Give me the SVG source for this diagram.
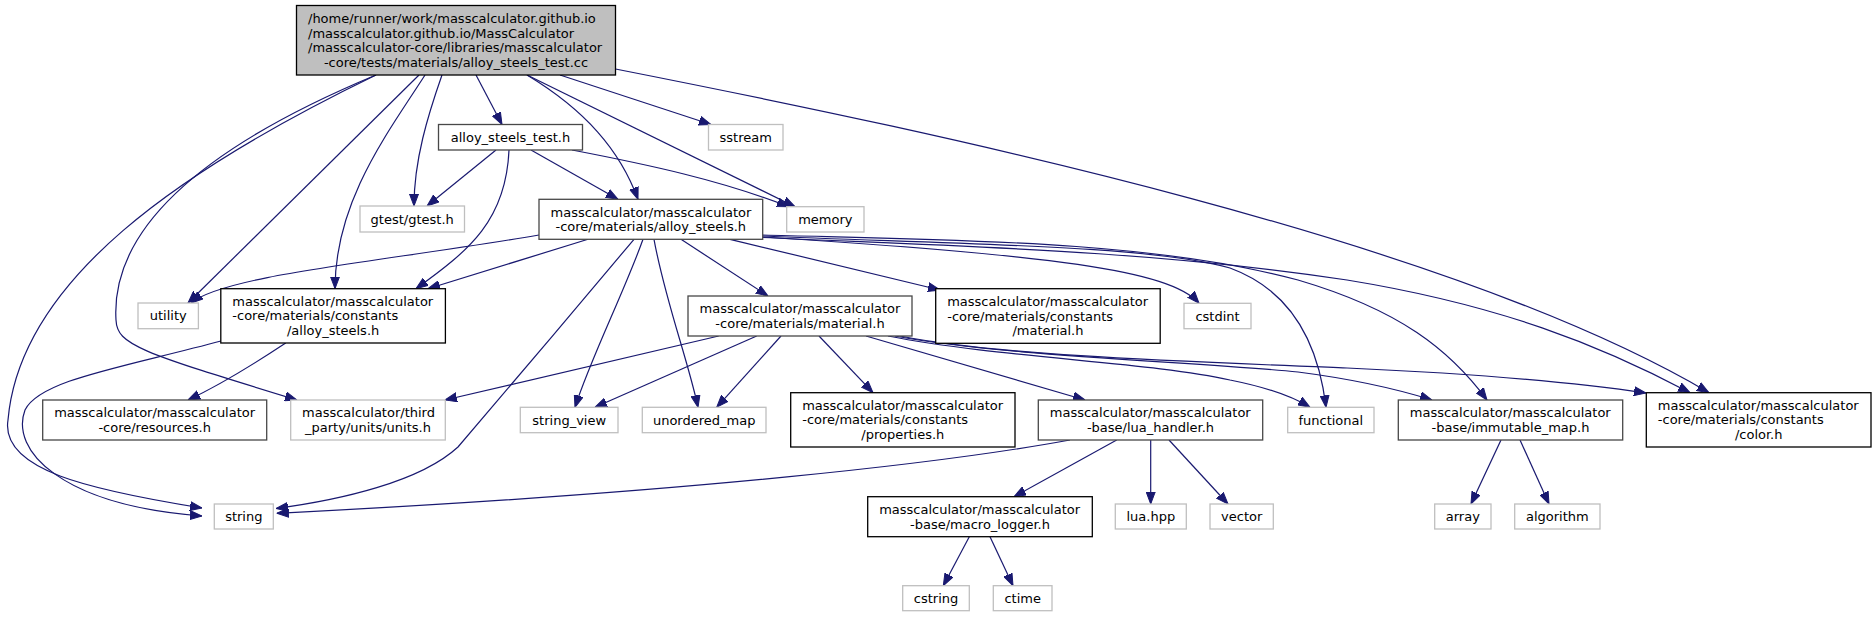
<svg xmlns="http://www.w3.org/2000/svg" width="1876" height="617" viewBox="0 0 1876 617">
<style>
text{font-family:"DejaVu Sans","Liberation Sans",sans-serif;font-size:13px;fill:#000}
.m{text-anchor:middle}
rect{stroke-width:1.3}
.root rect{fill:#bfbfbf;stroke:#000}
.doc rect{fill:#fff;stroke:#484848}
.blk rect{fill:#fff;stroke:#000}
.ext rect{fill:#fff;stroke:#bfbfbf}
#edges path{fill:none;stroke:#191970;stroke-width:1.2}
</style>
<defs>
<marker id="a" markerUnits="userSpaceOnUse" markerWidth="12" markerHeight="10" refX="12" refY="5" orient="auto">
<path d="M0,0.5 L12,5 L0,9.5 z" fill="#191970" stroke="#191970" stroke-width="1"/>
</marker>
</defs>
<rect width="1876" height="617" fill="#fff"/>
<g id="edges" marker-end="url(#a)">
<path d="M476,75 L502,124.5" marker-end="url(#a)"/>
<path d="M560,75 L711,124.5" marker-end="url(#a)"/>
<path d="M442,75 C428,115 414,160 414,206" marker-end="url(#a)"/>
<path d="M527,75 L795,206.7" marker-end="url(#a)"/>
<path d="M527,75 C585,110 620,150 638,199.3" marker-end="url(#a)"/>
<path d="M615.5,69 C950,135 1450,240 1709,392.7" marker-end="url(#a)"/>
<path d="M419,75 L188,303" marker-end="url(#a)"/>
<path d="M425,75 C390,130 335,200 335,288.7" marker-end="url(#a)"/>
<path d="M376,75 C220,140 110,220 116,320 C117,345 140,352 297,400" marker-end="url(#a)"/>
<path d="M376,75 C180,170 20,280 8,420 C0,470 90,490 202,508" marker-end="url(#a)"/>
<path d="M496,150 L427,206" marker-end="url(#a)"/>
<path d="M531,150 L618,199.3" marker-end="url(#a)"/>
<path d="M572,150 C650,165 720,180 789,206.7" marker-end="url(#a)"/>
<path d="M509,150 C506,220 470,250 416,288.7" marker-end="url(#a)"/>
<path d="M539,235 C380,262 225,275 191,303" marker-end="url(#a)"/>
<path d="M588,239.3 L428,288.7" marker-end="url(#a)"/>
<path d="M634,239.3 C590,292 490,410 458,447 C420,482 340,500 276,508.5" marker-end="url(#a)"/>
<path d="M681,239.3 L768,296" marker-end="url(#a)"/>
<path d="M730,239.3 L940,290" marker-end="url(#a)"/>
<path d="M643,239.3 C625,290 590,360 575,407.3" marker-end="url(#a)"/>
<path d="M654,239.3 C665,300 688,360 698,407.3" marker-end="url(#a)"/>
<path d="M762.7,237 C1050,255 1170,270 1199,303.3" marker-end="url(#a)"/>
<path d="M762.7,236 C950,244 1150,245 1230,268 C1290,290 1318,340 1326,407.3" marker-end="url(#a)"/>
<path d="M762.7,235 C950,240 1150,240 1298,280 C1400,310 1450,350 1487,400" marker-end="url(#a)"/>
<path d="M762.7,237.5 C950,246 1150,250 1347,280 C1500,305 1600,345 1690,392.7" marker-end="url(#a)"/>
<path d="M285.7,343 C260,360 220,385 188,400" marker-end="url(#a)"/>
<path d="M221,341 C120,368 40,380 25,410 C10,450 60,505 202,516" marker-end="url(#a)"/>
<path d="M718.7,336 L445,400" marker-end="url(#a)"/>
<path d="M756.7,336 L595,407.3" marker-end="url(#a)"/>
<path d="M781,336 L716.7,407.3" marker-end="url(#a)"/>
<path d="M819,336 L873,392.7" marker-end="url(#a)"/>
<path d="M866,336 L1085,400" marker-end="url(#a)"/>
<path d="M888,336 C1000,358 1150,362 1230,380 C1270,388 1295,398 1310,407.3" marker-end="url(#a)"/>
<path d="M895,336 C1000,356 1200,362 1298,372 C1360,380 1400,390 1432,400" marker-end="url(#a)"/>
<path d="M900,336 C1000,356 1200,362 1347,368 C1480,374 1580,383 1646,393" marker-end="url(#a)"/>
<path d="M1070,440 C950,462 700,492 276.7,513.3" marker-end="url(#a)"/>
<path d="M1116.7,440 L1014,496.7" marker-end="url(#a)"/>
<path d="M1150.7,440 L1150.7,504" marker-end="url(#a)"/>
<path d="M1169,440 L1228,504" marker-end="url(#a)"/>
<path d="M969.3,536.7 L943.3,585.7" marker-end="url(#a)"/>
<path d="M990,536.7 L1013,585.7" marker-end="url(#a)"/>
<path d="M1501,440 L1471,504" marker-end="url(#a)"/>
<path d="M1520,440 L1549,504" marker-end="url(#a)"/>
</g>
<g id="n1" class="root"><rect x="296.5" y="5.5" width="319" height="69.5"/>
<text x="308" y="23.4">/home/runner/work/masscalculator.github.io</text>
<text x="308" y="37.9">/masscalculator.github.io/MassCalculator</text>
<text x="308" y="52.4">/masscalculator-core/libraries/masscalculator</text>
<text class="m" x="456" y="66.9">-core/tests/materials/alloy_steels_test.cc</text></g>
<g id="n2" class="doc"><rect x="438.5" y="124.5" width="144" height="25.5"/><text class="m" x="510.5" y="141.7">alloy_steels_test.h</text></g>
<g id="n3" class="ext"><rect x="708.5" y="124.5" width="74.5" height="25.5"/><text class="m" x="745.7" y="141.7">sstream</text></g>
<g id="n4" class="ext"><rect x="360" y="206" width="104.5" height="26"/><text class="m" x="412.2" y="223.5">gtest/gtest.h</text></g>
<g id="n5" class="ext"><rect x="786.7" y="206.7" width="77.3" height="25.3"/><text class="m" x="825.3" y="223.8">memory</text></g>
<g id="n6" class="doc"><rect x="539" y="199.3" width="223.7" height="40"/><text x="550.5" y="216.6">masscalculator/masscalculator</text><text class="m" x="650.8" y="231.1">-core/materials/alloy_steels.h</text></g>
<g id="n7" class="ext"><rect x="138" y="303" width="60.4" height="25.7"/><text class="m" x="168.2" y="320.4">utility</text></g>
<g id="n8" class="blk"><rect x="220.8" y="288.7" width="224.6" height="54.3"/><text x="232.3" y="305.8">masscalculator/masscalculator</text><text x="232.3" y="320.3">-core/materials/constants</text><text class="m" x="333.1" y="334.8">/alloy_steels.h</text></g>
<g id="n9" class="doc"><rect x="688" y="296" width="224" height="40"/><text x="699.5" y="313.3">masscalculator/masscalculator</text><text class="m" x="800" y="327.8">-core/materials/material.h</text></g>
<g id="n10" class="blk"><rect x="935.7" y="288.7" width="224.5" height="54.6"/><text x="947.2" y="306">masscalculator/masscalculator</text><text x="947.2" y="320.5">-core/materials/constants</text><text class="m" x="1048" y="335">/material.h</text></g>
<g id="n11" class="ext"><rect x="1184" y="303.3" width="67" height="25.4"/><text class="m" x="1217.5" y="320.5">cstdint</text></g>
<g id="n12" class="doc"><rect x="42.7" y="400" width="224" height="40"/><text x="54.2" y="417.2">masscalculator/masscalculator</text><text class="m" x="154.7" y="431.7">-core/resources.h</text></g>
<g id="n13" class="ext"><rect x="290.7" y="400" width="154.6" height="40"/><text x="302" y="417.2">masscalculator/third</text><text class="m" x="368" y="431.7">_party/units/units.h</text></g>
<g id="n14" class="ext"><rect x="520.3" y="407.3" width="97.7" height="25.4"/><text class="m" x="569.2" y="424.5">string_view</text></g>
<g id="n15" class="ext"><rect x="642.3" y="407.3" width="123.7" height="25.4"/><text class="m" x="704.2" y="424.5">unordered_map</text></g>
<g id="n16" class="blk"><rect x="790.7" y="392.7" width="224.3" height="54.3"/><text x="802.2" y="409.8">masscalculator/masscalculator</text><text x="802.2" y="424.3">-core/materials/constants</text><text class="m" x="902.8" y="438.8">/properties.h</text></g>
<g id="n17" class="doc"><rect x="1038.3" y="400" width="224.4" height="40"/><text x="1049.8" y="417.2">masscalculator/masscalculator</text><text class="m" x="1150.5" y="431.7">-base/lua_handler.h</text></g>
<g id="n18" class="ext"><rect x="1287.7" y="407.3" width="86.3" height="25.4"/><text class="m" x="1330.8" y="424.5">functional</text></g>
<g id="n19" class="doc"><rect x="1398.3" y="400" width="224.4" height="40"/><text x="1409.8" y="417.2">masscalculator/masscalculator</text><text class="m" x="1510.5" y="431.7">-base/immutable_map.h</text></g>
<g id="n20" class="blk"><rect x="1646.3" y="392.7" width="224.7" height="54.3"/><text x="1657.8" y="409.8">masscalculator/masscalculator</text><text x="1657.8" y="424.3">-core/materials/constants</text><text class="m" x="1758.7" y="438.8">/color.h</text></g>
<g id="n21" class="ext"><rect x="214.3" y="504" width="59" height="25"/><text class="m" x="243.8" y="521">string</text></g>
<g id="n22" class="blk"><rect x="867.7" y="496.7" width="224.6" height="40"/><text x="879.2" y="514">masscalculator/masscalculator</text><text class="m" x="980" y="528.5">-base/macro_logger.h</text></g>
<g id="n23" class="ext"><rect x="1115.3" y="504" width="71" height="25"/><text class="m" x="1150.8" y="521">lua.hpp</text></g>
<g id="n24" class="ext"><rect x="1210" y="504" width="63.3" height="25"/><text class="m" x="1241.7" y="521">vector</text></g>
<g id="n25" class="ext"><rect x="1434.7" y="504" width="56.3" height="25"/><text class="m" x="1462.8" y="521">array</text></g>
<g id="n26" class="ext"><rect x="1514.7" y="504" width="85.3" height="25"/><text class="m" x="1557.3" y="521">algorithm</text></g>
<g id="n27" class="ext"><rect x="902.7" y="585.7" width="66.6" height="25"/><text class="m" x="936" y="602.7">cstring</text></g>
<g id="n28" class="ext"><rect x="993.3" y="585.7" width="58.7" height="25"/><text class="m" x="1022.7" y="602.7">ctime</text></g>
</svg>
